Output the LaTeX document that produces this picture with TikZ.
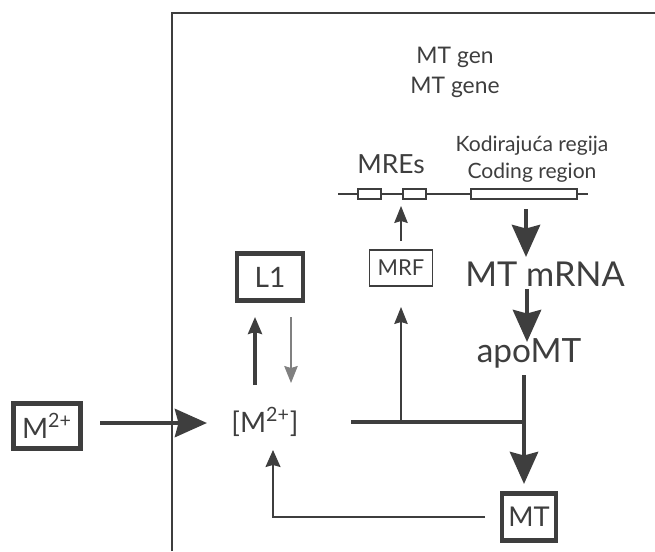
\documentclass[tikz,border=0pt]{standalone}
\usepackage{fontspec}
\setmainfont{Lato}
\usetikzlibrary{arrows.meta,calc,positioning}
\definecolor{ink}{HTML}{3E3E3E}
\tikzset{
  px/.style={x=0.02cm,y=-0.02cm},
  bigarrow/.style={ink,line width=2.7pt,-{Stealth[width=0.56cm,length=0.64cm,inset=0.07cm]}},
  midarrow/.style={ink,line width=1.9pt,-{Stealth[width=0.28cm,length=0.34cm,inset=0.04cm]}},
  thinarrow/.style={ink,line width=0.65pt,-{Stealth[width=0.27cm,length=0.34cm,inset=0.04cm]}},
  heavybox/.style={draw=ink,line width=2.5pt,inner sep=0pt},
  lightbox/.style={draw=ink,line width=0.6pt,inner sep=0pt},
  genebox/.style={draw=ink,fill=white,line width=0.6pt,inner sep=0pt,minimum height=0.2cm},
  txt/.style={text=ink,inner sep=0pt,align=center},
}
\begin{document}
\begin{tikzpicture}[px]
\useasboundingbox (0,0) rectangle (655,551);
% frame
\draw[ink,line width=1.1pt] (172,551)--(172,13)--(655,13);
% gene
\node[txt,font=\fontsize{13}{17}\selectfont] (gen) at (455,72) {MT gen\\MT gene};
\node[txt,font=\fontsize{12}{15.3}\selectfont] (cod) at (532,159) {Kodirajuća regija\\Coding region};
\node[txt,font=\fontsize{15}{17}\selectfont] (mres) at (391,164) {MREs};
\draw[ink,line width=0.6pt] (338,194)--(588,194);
\node[genebox,minimum width=0.46cm] (mre1) at (369.5,194) {};
\node[genebox,minimum width=0.46cm] (mre2) at (414.5,194) {};
\node[genebox,minimum width=2.12cm] (code) at (524,194) {};
\coordinate (mretip) at (401,206);
% nodes
\node[lightbox,txt,minimum width=1.26cm,minimum height=0.72cm,font=\fontsize{12.5}{14}\selectfont] (mrf) at (401,268) {MRF};
\node[txt,font=\fontsize{19.5}{21}\selectfont] (mrna) at (545,274) {MT mRNA};
\node[txt,font=\fontsize{19}{21}\selectfont] (apo) at (529,353) {apoMT};
\node[heavybox,txt,minimum width=1.08cm,minimum height=0.94cm,font=\fontsize{15.5}{17}\selectfont] (mt) at (529,517) {MT};
\node[heavybox,txt,minimum width=1.32cm,minimum height=0.94cm,font=\fontsize{16}{18}\selectfont] (L1) at (270,277) {L1};
\node[txt,font=\fontsize{16}{18}\selectfont] (mion) at (265,422) {[M\textsuperscript{2+}]};
\node[heavybox,txt,minimum width=1.34cm,minimum height=0.9cm,font=\fontsize{16}{18}\selectfont] (mout) at (47,426) {M\textsuperscript{2+}};
\coordinate (jn) at (524,422);
\coordinate (br) at (401,422);
% connectors
\draw[bigarrow] ($(mout)+(53,-3)$) -- ($(mion)+(-58,1)$);
\draw[midarrow] ($(mion)+(-10,-37)$) -- ($(L1)+(-15,40)$);
\draw[thinarrow,gray] ($(L1)+(21,40)$) -- ($(mion)+(26,-39)$);
\draw[ink,line width=2.6pt] ($(mion)+(86,0)$) -- (jn);
\draw[thinarrow] (br) -- ($(mrf)+(0,39)$);
\draw[thinarrow] ($(mrf)+(0,-27)$) -- (mretip);
\draw[bigarrow] ($(code)+(2,15)$) -- ($(mrna)+(-19,-17)$);
\draw[bigarrow] ($(mrna)+(-18,15)$) -- ($(apo)+(-2,-11)$);
\draw[bigarrow] ($(apo)+(-5,22)$) -- (jn) -- ($(mt)+(-5,-33)$);
\draw[ink,line width=0.9pt,-{Stealth[width=0.3cm,length=0.34cm,inset=0.04cm]}] ($(mt)+(-44,0)$) -| ($(mion)+(8,28)$);
\end{tikzpicture}
\end{document}
